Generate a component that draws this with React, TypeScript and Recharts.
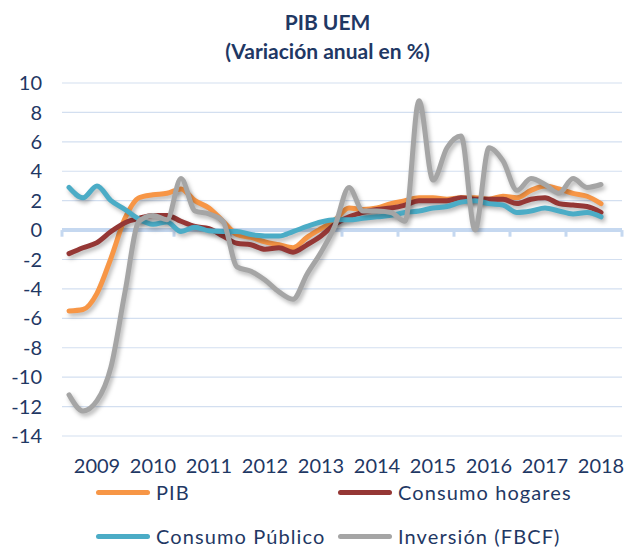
import React from "react";
import {
  CartesianGrid,
  Legend,
  Line,
  LineChart,
  ReferenceLine,
  XAxis,
  YAxis,
} from "recharts";

// Quarterly annual growth (%), 2009T1 .. 2018T3
const quarters = [
  "2009T1", "2009T2", "2009T3", "2009T4",
  "2010T1", "2010T2", "2010T3", "2010T4",
  "2011T1", "2011T2", "2011T3", "2011T4",
  "2012T1", "2012T2", "2012T3", "2012T4",
  "2013T1", "2013T2", "2013T3", "2013T4",
  "2014T1", "2014T2", "2014T3", "2014T4",
  "2015T1", "2015T2", "2015T3", "2015T4",
  "2016T1", "2016T2", "2016T3", "2016T4",
  "2017T1", "2017T2", "2017T3", "2017T4",
  "2018T1", "2018T2", "2018T3",
];

const pib = [
  -5.5, -5.4, -4.3, -1.9, 0.8, 2.2, 2.4, 2.5, 2.8, 2.0, 1.5, 0.6, -0.3, -0.5,
  -0.8, -1.0, -1.2, -0.5, 0.1, 0.7, 1.5, 1.4, 1.5, 1.8, 2.0, 2.2, 2.2, 2.1, 2.2,
  2.2, 2.1, 2.3, 2.2, 2.7, 3.0, 2.8, 2.5, 2.3, 1.8,
];
const consumoHogares = [
  -1.6, -1.2, -0.85, -0.1, 0.5, 0.8, 1.0, 1.0, 0.6, 0.25, 0.1, -0.4, -0.9, -1.0,
  -1.3, -1.2, -1.5, -1.0, -0.4, 0.4, 0.9, 1.2, 1.4, 1.5, 1.7, 2.0, 2.0, 2.0, 2.2,
  2.1, 2.1, 2.1, 1.8, 2.1, 2.2, 1.8, 1.7, 1.6, 1.2,
];
const consumoPublico = [
  2.9, 2.2, 3.0, 2.0, 1.4, 0.75, 0.4, 0.55, -0.1, 0.2, -0.05, -0.1, -0.1, -0.3,
  -0.4, -0.4, -0.1, 0.25, 0.55, 0.7, 0.7, 0.8, 0.9, 1.0, 1.2, 1.3, 1.5, 1.6, 1.9,
  2.0, 1.8, 1.7, 1.2, 1.3, 1.5, 1.3, 1.1, 1.2, 0.9,
];
const inversion = [
  -11.2, -12.3, -11.6, -9.3, -4.2, 0.6, 1.0, 0.7, 3.5, 1.3, 1.1, 0.6, -2.5, -2.8,
  -3.4, -4.2, -4.7, -3.0, -1.5, 0.3, 2.9, 1.3, 1.3, 1.2, 0.6, 8.8, 3.4, 5.6, 6.4,
  0.0, 5.6, 4.7, 2.7, 3.5, 3.1, 2.5, 3.5, 2.9, 3.1,
];

const years = ["2009", "2010", "2011", "2012", "2013", "2014", "2015", "2016", "2017", "2018"];
const yTicks = [10, 8, 6, 4, 2, 0, -2, -4, -6, -8, -10, -12, -14];

const NAVY = "#1f3864";
const FONT = "Lato, 'Open Sans', sans-serif";

const series = [
  { key: "pib", label: "PIB", color: "#f79646" },
  { key: "hogares", label: "Consumo hogares", color: "#953735" },
  { key: "publico", label: "Consumo Público", color: "#4bacc6" },
  { key: "inversion", label: "Inversión (FBCF)", color: "#a5a5a5" },
];

// each quarter sits in the middle of its slot; 4 slots per year
const rows = quarters.map((q, i) => ({
  q,
  x: i + 0.5,
  pib: pib[i],
  hogares: consumoHogares[i],
  publico: consumoPublico[i],
  inversion: inversion[i],
}));

const yearTicks = years.map((_, k) => k * 4 + 2.5);
const yearBounds = [0, ...years.map((_, k) => (k + 1) * 4)];

// 2x2 legend grid, in series order (recharts sorts its payload by name)
const legendPos = [
  { left: 96, top: 0 },
  { left: 338, top: 0 },
  { left: 96, top: 44 },
  { left: 338, top: 44 },
];

function LegendBlock() {
  return (
    <div style={{ position: "relative", height: 70, fontFamily: FONT }}>
      {series.map((s, i) => (
        <div
          key={s.key}
          style={{
            position: "absolute",
            left: legendPos[i].left,
            top: legendPos[i].top,
            display: "flex",
            alignItems: "center",
            whiteSpace: "nowrap",
          }}
        >
          <span
            style={{
              display: "inline-block",
              width: 54,
              height: 5,
              borderRadius: 3,
              background: s.color,
              marginRight: 6,
            }}
          />
          <span style={{ fontSize: 20, color: NAVY, letterSpacing: 1.1 }}>{s.label}</span>
        </div>
      ))}
    </div>
  );
}

export default function App() {
  return (
    <div
      style={{
        position: "absolute",
        left: 0,
        top: 0,
        width: 629,
        height: 550,
        background: "#fff",
        fontFamily: FONT,
      }}
    >
      <style>{`.recharts-line-curve { filter: drop-shadow(2px 3px 2px rgba(0,0,0,0.28)); }`}</style>
      <div
        style={{
          position: "absolute",
          left: 0,
          top: 7,
          width: 655,
          textAlign: "center",
          color: NAVY,
          fontWeight: 700,
          fontSize: 21,
          lineHeight: "29px",
        }}
      >
        <div>PIB UEM</div>
        <div>(Variación anual en %)</div>
      </div>
      <LineChart
        width={629}
        height={550}
        data={rows}
        margin={{ top: 83, right: 7, bottom: 84, left: 0 }}
      >
        <CartesianGrid horizontal vertical={false} stroke="#d3dff0" strokeWidth={1.2} />
        <XAxis
          type="number"
          dataKey="x"
          domain={[0, 40]}
          ticks={yearTicks}
          interval={0}
          height={30}
          tickFormatter={(v: number) => years[Math.floor(v / 4)] ?? ""}
          axisLine={false}
          tickLine={false}
          tickMargin={17}
          tick={{ fill: NAVY, fontSize: 20, fontFamily: FONT }}
        />
        <YAxis
          domain={[-14, 10]}
          ticks={yTicks}
          interval={0}
          width={62}
          axisLine={false}
          tickLine={false}
          tickMargin={14}
          tick={{ fill: NAVY, fontSize: 20, fontFamily: FONT }}
        />
        <ReferenceLine y={0} stroke="#c5d8f0" strokeWidth={4} />
        {yearBounds.map((b) => (
          <ReferenceLine
            key={b}
            segment={[
              { x: b, y: 0 },
              { x: b, y: -0.45 },
            ]}
            stroke="#c5d8f0"
            strokeWidth={3}
          />
        ))}
        <Legend
          layout="horizontal"
          verticalAlign="middle"
          align="center"
          wrapperStyle={{ left: 0, top: 480, width: 629 }}
          content={<LegendBlock />}
        />
        {series.map((s) => (
          <Line
            key={s.key}
            type="monotone"
            dataKey={s.key}
            name={s.label}
            stroke={s.color}
            strokeWidth={5}
            strokeLinecap="round"
            strokeLinejoin="round"
            dot={false}
            activeDot={false}
            isAnimationActive={false}
          />
        ))}
      </LineChart>
    </div>
  );
}
